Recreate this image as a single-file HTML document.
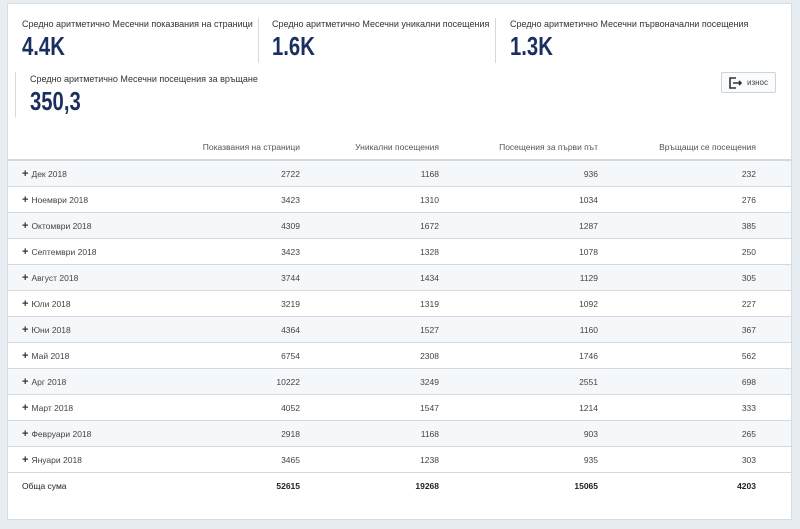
<!DOCTYPE html>
<html><head><meta charset="utf-8">
<style>
body{margin:0;width:800px;height:529px;background:#e8edf1;font-family:"Liberation Sans",sans-serif;overflow:hidden;position:relative}
.card{position:absolute;left:7px;top:3px;width:785px;height:517px;background:#fff;border:1px solid #d5dce3;box-sizing:border-box}
.kpi{position:absolute;color:#333;font-size:9px;white-space:nowrap}
.kpi .v{font-weight:bold;font-size:26px;color:#1b2f5e;transform:scaleX(.78);transform-origin:left;margin-top:2px}
.sep{position:absolute;width:1px;background:#d8d8d8}
.btn{position:absolute;left:721px;top:72px;width:55px;height:21px;border:1px solid #ccd3da;border-radius:2px;background:#fafbfc;font-size:8px;color:#444;box-sizing:border-box}
table{position:absolute;left:8px;top:135px;width:783px;border-collapse:collapse;font-size:8.5px;color:#444}
td,th{height:25px;padding:0;border-bottom:1px solid #d3d9df;text-align:right;font-weight:normal}
th{height:24px;border-bottom:2px solid #d3d9df;color:#555}
td:first-child,th:first-child{text-align:left;padding-left:14px}
tr.odd td{background:#f5f8fb}
.plus{font-weight:bold;font-size:11px;color:#333;margin-right:3px}
tr.tot td{border-bottom:none;color:#222}
</style></head><body>
<div class="card"></div>
<div class="kpi" style="left:22px;top:19px">Средно аритметично Месечни показвания на страници<div class="v">4.4K</div></div>
<div class="sep" style="left:258px;top:18px;height:45px"></div>
<div class="kpi" style="left:272px;top:19px">Средно аритметично Месечни уникални посещения<div class="v">1.6K</div></div>
<div class="sep" style="left:495px;top:18px;height:45px"></div>
<div class="kpi" style="left:510px;top:19px">Средно аритметично Месечни първоначални посещения<div class="v">1.3K</div></div>
<div class="sep" style="left:15px;top:72px;height:45px"></div>
<div class="kpi" style="left:30px;top:74px">Средно аритметично Месечни посещения за връщане<div class="v">350,3</div></div>
<div class="btn">
<svg width="14" height="12" style="position:absolute;left:7px;top:4px"><path d="M7 1H1v10h6M4 6h8M10 4l2 2-2 2" fill="none" stroke="#333" stroke-width="1.6"/></svg>
<span style="position:absolute;left:25px;top:5px">износ</span></div>
<table>
<thead><tr><th></th><th style="width:120px">Показвания на страници</th><th style="width:139px">Уникални посещения</th><th style="width:159px">Посещения за първи път</th><th style="width:158px">Връщащи се посещения</th><th style="width:35px"></th></tr></thead>
<tbody id="tb"></tbody></table>
<script>
const months=["Дек 2018","Ноември 2018","Октомври 2018","Септември 2018","Август 2018","Юли 2018","Юни 2018","Май 2018","Арг 2018","Март 2018","Февруари 2018","Януари 2018"];
const views=[2722,3423,4309,3423,3744,3219,4364,6754,10222,4052,2918,3465];
const unique=[1168,1310,1672,1328,1434,1319,1527,2308,3249,1547,1168,1238];
const first=[936,1034,1287,1078,1129,1092,1160,1746,2551,1214,903,935];
const ret=[232,276,385,250,305,227,367,562,698,333,265,303];
const tb=document.getElementById('tb');
months.forEach((m,i)=>{
const tr=document.createElement('tr');


if(i%2==0)tr.className='odd';
tr.innerHTML='<td><span class="plus">+</span>'+m+'</td><td>'+views[i]+'</td><td>'+unique[i]+'</td><td>'+first[i]+'</td><td>'+ret[i]+'</td><td></td>';
tb.appendChild(tr);
});
const sum=a=>a.reduce((x,y)=>x+y,0);
const tr=document.createElement('tr');
tr.className='tot';


tr.innerHTML='<td>Обща сума</td><td><b>'+sum(views)+'</b></td><td><b>'+sum(unique)+'</b></td><td><b>'+sum(first)+'</b></td><td><b>'+sum(ret)+'</b></td><td></td>';
tb.appendChild(tr);
</script>
</body></html>
